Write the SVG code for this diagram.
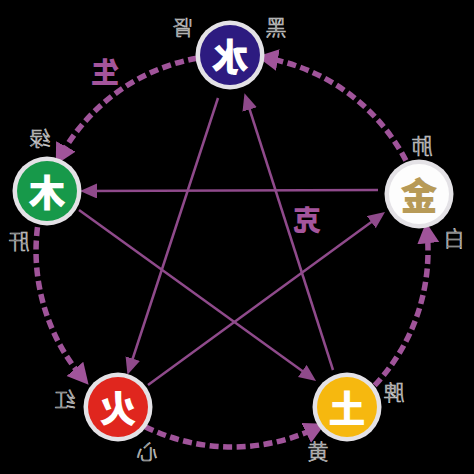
<svg xmlns="http://www.w3.org/2000/svg" width="474" height="474" viewBox="0 0 474 474">
<style>
.arc{fill:none;stroke:#a0549a;stroke-width:5.5;stroke-dasharray:9 4.5}
.star{fill:none;stroke:#8f4a8b;stroke-width:2.5}
.ring{fill:#e4e2e6}
.el{font-family:"Noto Sans CJK SC","Noto Sans",sans-serif;font-size:37px;font-weight:900;text-anchor:middle;dominant-baseline:central}
.lbl{font-family:"Noto Sans CJK SC","Noto Sans",sans-serif;font-size:21px;font-weight:300;text-anchor:middle;dominant-baseline:central;fill:#2a2a2a;stroke:#d0d0d0;stroke-width:0.7}
.big{font-family:"Noto Sans CJK SC","Noto Sans",sans-serif;font-size:28px;font-weight:900;text-anchor:middle;dominant-baseline:central;fill:#a4559c}
</style>
<defs>
<marker id="ah" markerUnits="userSpaceOnUse" markerWidth="22" markerHeight="24" refX="13" refY="11" orient="auto">
<path d="M0,0 L21,11 L0,22 z" fill="#a0549a"/>
</marker>
<marker id="sh" markerUnits="userSpaceOnUse" markerWidth="18" markerHeight="16" refX="12" refY="7.5" orient="auto">
<path d="M0,0 L17,7.5 L0,15 z" fill="#8f4a8b"/>
</marker>
</defs>
<rect width="474" height="474" fill="#000"/>
<g id="connectors">
<path class="arc" marker-end="url(#ah)" d="M405.9,160.5 A196,196 0 0 0 265,57.8"/>
<path class="arc" marker-end="url(#ah)" d="M197,58.2 A196,196 0 0 0 59.6,157.8"/>
<path class="arc" marker-end="url(#ah)" d="M37.5,227.1 A196,196 0 0 0 83.4,378.8"/>
<path class="arc" marker-end="url(#ah)" d="M145.2,426.7 A196,196 0 0 0 317.9,427.2"/>
<path class="arc" marker-end="url(#ah)" d="M374.7,385.4 A196,196 0 0 0 426.9,230.2"/>
<line class="star" marker-end="url(#sh)" x1="218" y1="98" x2="129" y2="370"/>
<line class="star" marker-end="url(#sh)" x1="333" y1="370" x2="246" y2="98"/>
<line class="star" marker-end="url(#sh)" x1="378" y1="190" x2="85" y2="191"/>
<line class="star" marker-end="url(#sh)" x1="79" y1="210" x2="312" y2="378"/>
<line class="star" marker-end="url(#sh)" x1="148" y1="385" x2="381" y2="215"/>
</g>
<g id="shui">
<circle class="ring" cx="230" cy="55" r="34.5"/>
<circle cx="230" cy="55" r="30" fill="#2d1b80"/>
<text class="el" fill="#fff" transform="translate(230,55) scale(-1,1)">水</text>
</g>
<g id="mu">
<circle class="ring" cx="47" cy="191" r="34.5"/>
<circle cx="47" cy="191" r="30" fill="#17994a"/>
<text class="el" fill="#fff" transform="translate(47,191) scale(-1,1)">木</text>
</g>
<g id="jin">
<circle class="ring" cx="419" cy="194" r="34.5"/>
<circle cx="419" cy="194" r="30" fill="#fdfdfd"/>
<text class="el" fill="#b79a57" transform="translate(419,194) scale(-1,1)">金</text>
</g>
<g id="huo">
<circle class="ring" cx="118" cy="407" r="34.5"/>
<circle cx="118" cy="407" r="30" fill="#e0261e"/>
<text class="el" fill="#fff" transform="translate(118,407) scale(-1,1)">火</text>
</g>
<g id="tu">
<circle class="ring" cx="347" cy="407" r="34.5"/>
<circle cx="347" cy="407" r="30" fill="#f6b80f"/>
<text class="el" fill="#fff" transform="translate(347,407) scale(-1,1)">土</text>
</g>
<g id="labels">
<text class="lbl" transform="translate(183,26) scale(-1,1)">肾</text>
<text class="lbl" transform="translate(276,26) scale(-1,1)">黑</text>
<text class="lbl" transform="translate(40,137) scale(-1,1)">绿</text>
<text class="lbl" transform="translate(19,240) scale(-1,1)">肝</text>
<text class="lbl" transform="translate(422,144) scale(-1,1)">肺</text>
<text class="lbl" transform="translate(454,237) scale(-1,1)">白</text>
<text class="lbl" transform="translate(394,391) scale(-1,1)">脾</text>
<text class="lbl" transform="translate(318,450) scale(-1,1)">黄</text>
<text class="lbl" transform="translate(65,398) scale(-1,1)">红</text>
<text class="lbl" transform="translate(147,450) scale(-1,1)">心</text>
<text class="big" transform="translate(105,71) scale(-1,1)">生</text>
<text class="big" transform="translate(307,219) scale(-1,1)">克</text>
</g>
</svg>
